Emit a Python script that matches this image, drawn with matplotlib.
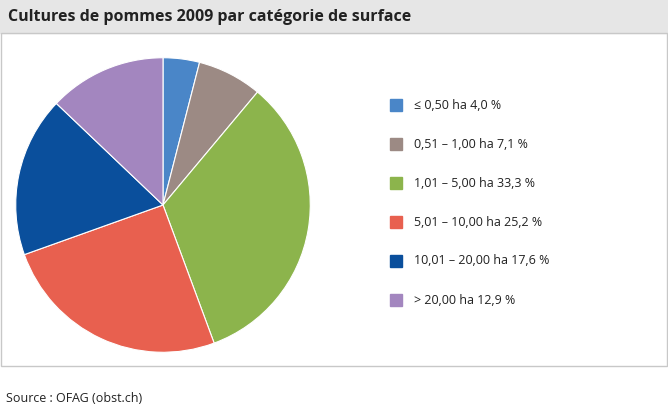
import matplotlib
matplotlib.use("Agg")
import matplotlib.pyplot as plt
from matplotlib.patches import Rectangle

categories = ["≤ 0,50 ha", "0,51 – 1,00 ha", "1,01 – 5,00 ha", "5,01 – 10,00 ha", "10,01 – 20,00 ha", "> 20,00 ha"]
values = [4.0, 7.1, 33.3, 25.2, 17.6, 12.9]
labels = ["4,0 %", "7,1 %", "33,3 %", "25,2 %", "17,6 %", "12,9 %"]
colors = ["#4a86c8", "#9c8a84", "#8cb44c", "#e8604f", "#0a4f9c", "#a386bf"]

W, H = 668, 412
fig = plt.figure(figsize=(W/100, H/100), dpi=100)
font = "Open Sans"

def px(x, y, w, h):
    return [x/W, 1-(y+h)/H, w/W, h/H]

bg = fig.add_axes([0, 0, 1, 1]); bg.axis("off"); bg.set_xlim(0, W); bg.set_ylim(H, 0)
bg.add_patch(Rectangle((0, 0), W, 33, color="#e6e6e6"))
bg.add_patch(Rectangle((0.5, 33), W-1.5, 333, fill=False, ec="#c8c8c8", lw=1))
bg.text(8, 17, "Cultures de pommes 2009 par catégorie de surface", fontsize=11.5, fontweight="bold",
        va="center", family=font, color="#222222")
bg.text(6, 398, "Source : OFAG (obst.ch)", fontsize=9, va="center", family=font, color="#222222")

ax = fig.add_axes(px(15, 57, 296, 296))
ax.pie(values, colors=colors, startangle=90, counterclock=False,
       wedgeprops=dict(linewidth=0.8, edgecolor="white"))
ax.set_xlim(-1.005, 1.005); ax.set_ylim(-1.005, 1.005)
ax.set_aspect("equal")

for i, (c, l, col) in enumerate(zip(categories, labels, colors)):
    y = 105 + i*39
    bg.add_patch(Rectangle((390, y-6), 12, 12, color=col))
    bg.text(414, y, f"{c} {l}", fontsize=9, va="center", family=font, color="#222222")

fig.savefig("out.png", dpi=100)
